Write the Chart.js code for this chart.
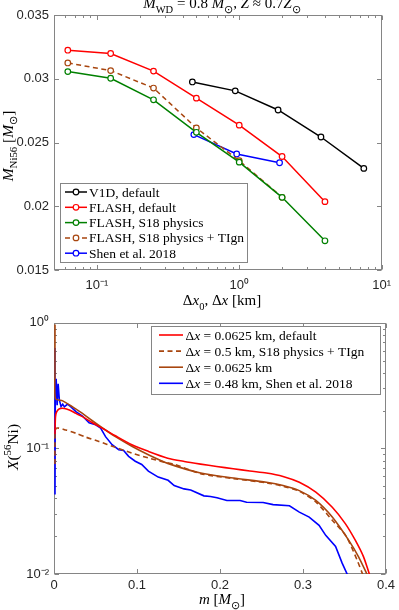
<!DOCTYPE html>
<html>
<head>
<meta charset="utf-8">
<script src="https://cdn.jsdelivr.net/npm/chart.js@4"></script>
<style>
  body { margin: 0; background: #fff; }
  #wrap { position: relative; width: 399px; height: 610px; overflow: hidden; }
  canvas { position: absolute; left: 0; display: block; }
</style>
</head>
<body>
<div id="wrap">
  <canvas id="topCanvas" width="399" height="310" style="top:0"></canvas>
  <canvas id="botCanvas" width="399" height="300" style="top:310px"></canvas>
</div>
<script>
// ---- top panel: M(Ni56) vs resolution ----
const v1dDx = [0.46875, 0.9375, 1.875, 3.75, 7.5];
const v1dNi = [0.02975, 0.02905, 0.02755, 0.02543, 0.02297];
const flashDx = [0.0625, 0.125, 0.25, 0.5, 1, 2, 4];
const flashDefaultNi = [0.03224, 0.03198, 0.0306, 0.02848, 0.02636, 0.0239, 0.02036];
const flashS18Ni = [0.03056, 0.03004, 0.02835, 0.0258, 0.02346, 0.0207, 0.01729];
const tignDx = [0.0625, 0.125, 0.25, 0.5, 1, 2];
const flashTignNi = [0.03124, 0.03064, 0.02927, 0.02614, 0.02357, 0.0207];
const shenDx = [0.48, 0.96, 1.92];
const shenNi = [0.02562, 0.0241, 0.02341];
const topLabels = ['V1D, default', 'FLASH, default', 'FLASH, S18 physics', 'FLASH, S18 physics + TIgn', 'Shen et al. 2018'];
const topXTicks = [0.05, 0.06, 0.07, 0.08, 0.09, 0.1, 0.2, 0.3, 0.4, 0.5, 0.6, 0.7, 0.8, 0.9, 1, 2, 3, 4, 5, 6, 7, 8, 9, 10];

// ---- bottom panel: X(56Ni) profiles ----
const mRed = [0.0012, 0.0018, 0.0033, 0.0065, 0.0125, 0.0185, 0.0264, 0.0343, 0.0462, 0.058, 0.074, 0.0938, 0.1137, 0.137, 0.157, 0.1766, 0.196, 0.216, 0.236, 0.256, 0.276, 0.2956, 0.3155, 0.3353, 0.351, 0.363, 0.373, 0.380, 0.384];
const xRed = [0.13, 0.179, 0.196, 0.207, 0.208, 0.202, 0.190, 0.179, 0.160, 0.145, 0.126, 0.107, 0.0947, 0.0836, 0.0787, 0.0750, 0.0718, 0.0689, 0.066, 0.0637, 0.0598, 0.0537, 0.0448, 0.034, 0.0252, 0.0186, 0.0137, 0.01, 0.0085];
const mDash = [0.0012, 0.0012, 0.0026, 0.0145, 0.0264, 0.0383, 0.0542, 0.074, 0.0938, 0.1137, 0.1336, 0.1455, 0.1766, 0.216, 0.256, 0.276, 0.2956, 0.3155, 0.3353, 0.352, 0.365, 0.375, 0.379];
const xDash = [0.075, 0.11, 0.1445, 0.140, 0.132, 0.123, 0.1135, 0.102, 0.0918, 0.0839, 0.0776, 0.0744, 0.0630, 0.0575, 0.0532, 0.0500, 0.0455, 0.0375, 0.0268, 0.0200, 0.0130, 0.0088, 0.0075];
const mBrown = [0.0012, 0.0012, 0.0018, 0.0105, 0.0224, 0.0343, 0.0462, 0.058, 0.074, 0.0938, 0.1137, 0.137, 0.1766, 0.216, 0.256, 0.276, 0.2956, 0.3155, 0.3353, 0.355, 0.367, 0.377, 0.381];
const xBrown = [0.97, 0.4, 0.249, 0.239, 0.214, 0.190, 0.166, 0.146, 0.124, 0.104, 0.089, 0.076, 0.0637, 0.0581, 0.0537, 0.0506, 0.0461, 0.0385, 0.0284, 0.0186, 0.0137, 0.01, 0.0088];
const mBlue = [0.0012, 0.0012, 0.0016, 0.0026, 0.0038, 0.005, 0.0065, 0.0085, 0.0105, 0.0125, 0.0164, 0.0204, 0.0264, 0.0343, 0.0423, 0.0502, 0.0562, 0.0621, 0.07, 0.078, 0.0839, 0.0899, 0.0979, 0.1057, 0.1137, 0.1256, 0.1375, 0.1448, 0.1567, 0.1647, 0.1806, 0.1885, 0.1964, 0.2083, 0.2242, 0.2321, 0.252, 0.264, 0.2837, 0.2956, 0.3075, 0.3194, 0.3274, 0.3393, 0.3472, 0.3532, 0.356];
const xBlue = [0.63, 0.043, 0.30, 0.358, 0.221, 0.327, 0.242, 0.215, 0.225, 0.214, 0.225, 0.214, 0.196, 0.181, 0.160, 0.154, 0.145, 0.124, 0.107, 0.0977, 0.0964, 0.0865, 0.079, 0.0744, 0.0659, 0.0591, 0.0557, 0.0506, 0.0476, 0.0467, 0.0419, 0.0414, 0.0404, 0.0385, 0.0385, 0.0373, 0.0371, 0.0357, 0.0349, 0.0311, 0.0284, 0.0244, 0.0203, 0.0166, 0.0122, 0.01, 0.0085];
const botLabels = [
  [['Δ', 'r'], ['x', 'i'], [' = 0.0625 km, default', 'r']],
  [['Δ', 'r'], ['x', 'i'], [' = 0.5 km, S18 physics + TIgn', 'r']],
  [['Δ', 'r'], ['x', 'i'], [' = 0.0625 km', 'r']],
  [['Δ', 'r'], ['x', 'i'], [' = 0.48 km, Shen et al. 2018', 'r']]
];
const botYTicks = [0.01, 0.02, 0.03, 0.04, 0.05, 0.06, 0.07, 0.08, 0.09, 0.1, 0.2, 0.3, 0.4, 0.5, 0.6, 0.7, 0.8, 0.9, 1];

const RED = '#ff0000', GREEN = '#008000', BROWN = '#a8460f', BLUE = '#0000ff';
const tickFont = { family: '"Liberation Sans", Arial, sans-serif', size: 13 };
const tickColor = '#262626';
const axisColor = '#858585';

const pts = (xs, ys) => xs.map((x, i) => ({ x: x, y: ys[i] }));

function isDecade(v) {
  const l = Math.log10(v);
  return Math.abs(l - Math.round(l)) < 1e-6;
}
function decadeLabel(v) {
  if (!isDecade(v)) return '';
  const sup = { '-': '⁻', '0': '⁰', '1': '¹', '2': '²', '3': '³' };
  return '10' + String(Math.round(Math.log10(v))).split('').map(c => sup[c]).join('');
}

// rich text: r roman, i italic, b subscript, p superscript
function drawRich(ctx, segs, x, y, size, rot, align) {
  const fontFor = k => {
    const small = k[0] === 'b' || k[0] === 'p';
    return (k.indexOf('i') >= 0 ? 'italic ' : '') + (small ? size * 0.7 : size) + 'px "Liberation Serif", serif';
  };
  const dy = k => k[0] === 'b' ? size * 0.3 : (k[0] === 'p' ? -size * 0.42 : 0);
  ctx.save();
  let w = 0;
  segs.forEach(([t, k]) => { ctx.font = fontFor(k); w += ctx.measureText(t).width; });
  ctx.translate(x, y);
  if (rot) ctx.rotate(-Math.PI / 2);
  let cx = align === 'left' ? 0 : -w / 2;
  ctx.textAlign = 'left';
  ctx.textBaseline = 'alphabetic';
  ctx.fillStyle = '#000';
  segs.forEach(([t, k]) => {
    ctx.font = fontFor(k);
    ctx.fillText(t, cx, dy(k));
    cx += ctx.measureText(t).width;
  });
  ctx.restore();
}

function makeFrame(texts, legend) {
  return {
    id: 'frame',
    beforeDatasetsDraw(chart) {
      const { ctx, chartArea: a, scales } = chart;
      ctx.save();
      ctx.strokeStyle = axisColor;
      ctx.lineWidth = 1;
      const L = Math.round(a.left) + 0.5, R = Math.round(a.right) - 0.5;
      const T = Math.round(a.top) + 0.5, B = Math.round(a.bottom) - 0.5;
      ctx.strokeRect(L, T, R - L, B - T);
      ctx.beginPath();
      [scales.x, scales.y].forEach(s => {
        s.ticks.forEach(t => {
          const p = Math.round(s.getPixelForValue(t.value)) + 0.5;
          const len = (s.type === 'logarithmic' && !isDecade(t.value)) ? 2.5 : 4.5;
          if (s.axis === 'x') {
            ctx.moveTo(p, B); ctx.lineTo(p, B - len);
            ctx.moveTo(p, T); ctx.lineTo(p, T + len);
          } else {
            ctx.moveTo(L, p); ctx.lineTo(L + len, p);
            ctx.moveTo(R, p); ctx.lineTo(R - len, p);
          }
        });
      });
      ctx.stroke();
      ctx.restore();
    },
    afterDraw(chart) {
      const ctx = chart.ctx;
      texts.forEach(t => drawRich(ctx, t.segs, t.x, t.y, t.size, t.rot));
      // legend box
      const g = legend;
      ctx.save();
      ctx.fillStyle = '#fff';
      ctx.fillRect(g.x, g.y, g.w, g.h);
      ctx.strokeStyle = axisColor;
      ctx.lineWidth = 1;
      ctx.strokeRect(g.x + 0.5, g.y + 0.5, g.w, g.h);
      g.labels.forEach((segs, i) => {
        const ds = chart.data.datasets[i];
        const y = g.y0 + i * g.dy;
        ctx.strokeStyle = ds.borderColor;
        ctx.lineWidth = ds.borderWidth;
        ctx.setLineDash(ds.borderDash || []);
        ctx.beginPath();
        ctx.moveTo(g.lx0, y); ctx.lineTo(g.lx1, y);
        ctx.stroke();
        ctx.setLineDash([]);
        if (ds.pointRadius) {
          ctx.beginPath();
          ctx.arc((g.lx0 + g.lx1) / 2, y, ds.pointRadius, 0, Math.PI * 2);
          ctx.fillStyle = '#fff';
          ctx.fill();
          ctx.lineWidth = ds.pointBorderWidth;
          ctx.stroke();
        }
        drawRich(ctx, segs, g.tx, y + 4.5, g.size, false, 'left');
      });
      ctx.restore();
    }
  };
}

function topSet(label, xs, ys, color, dash) {
  return {
    label: label, data: pts(xs, ys), borderColor: color, backgroundColor: color,
    borderWidth: 1.5, borderDash: dash, pointRadius: 2.8, pointBorderWidth: 1.2,
    pointBackgroundColor: '#fff', pointBorderColor: color, tension: 0
  };
}
function botSet(label, xs, ys, color, dash, tension) {
  return {
    label: label, data: pts(xs, ys), borderColor: color, borderWidth: 1.6,
    borderDash: dash, pointRadius: 0, tension: tension, clip: 0
  };
}

const noGrid = { display: false, drawTicks: false };
const noBorder = { display: false };

new Chart(document.getElementById('topCanvas'), {
  type: 'line',
  data: {
    datasets: [
      topSet(topLabels[0], v1dDx, v1dNi, '#000000'),
      topSet(topLabels[1], flashDx, flashDefaultNi, RED),
      topSet(topLabels[2], flashDx, flashS18Ni, GREEN),
      topSet(topLabels[3], tignDx, flashTignNi, BROWN, [5, 3.5]),
      topSet(topLabels[4], shenDx, shenNi, BLUE)
    ]
  },
  options: {
    responsive: false,
    animation: false,
    devicePixelRatio: 1,
    layout: { padding: { top: 15, right: 9, left: 0, bottom: 0 } },
    plugins: { legend: { display: false }, tooltip: { enabled: false } },
    scales: {
      x: {
        type: 'logarithmic', min: 0.05, max: 10,
        afterBuildTicks: s => { s.ticks = topXTicks.map(v => ({ value: v })); },
        afterFit: s => { s.height = 40; },
        grid: noGrid, border: noBorder,
        ticks: { autoSkip: false, maxRotation: 0, padding: 8, font: tickFont, color: tickColor, callback: v => decadeLabel(v) }
      },
      y: {
        type: 'linear', min: 0.015, max: 0.035,
        afterFit: s => { s.width = 54; },
        grid: noGrid, border: noBorder,
        ticks: { stepSize: 0.005, padding: 5, font: tickFont, color: tickColor, callback: v => String(+v.toFixed(3)) }
      }
    }
  },
  plugins: [makeFrame([
    { segs: [['M', 'i'], ['WD', 'b'], [' = 0.8 ', 'r'], ['M', 'i'], ['⊙', 'b'], [', ', 'r'], ['Z', 'i'], [' ≈ 0.7', 'r'], ['Z', 'i'], ['⊙', 'b']], x: 222, y: 8, size: 15 },
    { segs: [['M', 'i'], ['Ni56', 'b'], [' [', 'r'], ['M', 'i'], ['⊙', 'b'], [']', 'r']], x: 12.5, y: 146, size: 15.5, rot: true },
    { segs: [['Δ', 'r'], ['x', 'i'], ['0', 'b'], [', Δ', 'r'], ['x', 'i'], [' [km]', 'r']], x: 222, y: 305, size: 15 }
  ], { labels: topLabels.map(s => [[s, 'r']]), x: 60, y: 183, w: 187, h: 79, y0: 192, dy: 15.3, lx0: 65, lx1: 87, tx: 89, size: 13.5 })]
});

new Chart(document.getElementById('botCanvas'), {
  type: 'line',
  data: {
    datasets: [
      botSet('dx = 0.0625 km, default', mRed, xRed, RED, undefined, 0.25),
      botSet('dx = 0.5 km, S18 physics + TIgn', mDash, xDash, BROWN, [5, 3.5], 0.25),
      botSet('dx = 0.0625 km', mBrown, xBrown, BROWN, undefined, 0.25),
      botSet('dx = 0.48 km, Shen et al. 2018', mBlue, xBlue, BLUE, undefined, 0)
    ]
  },
  options: {
    responsive: false,
    animation: false,
    devicePixelRatio: 1,
    layout: { padding: { top: 10, right: 9, left: 0, bottom: 0 } },
    plugins: { legend: { display: false }, tooltip: { enabled: false } },
    scales: {
      x: {
        type: 'linear', min: 0, max: 0.4,
        afterFit: s => { s.height = 36; },
        grid: noGrid, border: noBorder,
        ticks: { stepSize: 0.1, autoSkip: false, maxRotation: 0, padding: 4, font: tickFont, color: tickColor, callback: v => String(+v.toFixed(1)) }
      },
      y: {
        type: 'logarithmic', min: 0.01, max: 1,
        afterBuildTicks: s => { s.ticks = botYTicks.map(v => ({ value: v })); },
        afterFit: s => { s.width = 54; },
        grid: noGrid, border: noBorder,
        ticks: { autoSkip: false, padding: 5, font: tickFont, color: tickColor, callback: v => decadeLabel(v) }
      }
    }
  },
  plugins: [makeFrame([
    { segs: [['X', 'i'], ['(', 'r'], ['56', 'p'], ['Ni)', 'r']], x: 17.5, y: 137, size: 15.5, rot: true },
    { segs: [['m', 'i'], [' [', 'r'], ['M', 'i'], ['⊙', 'b'], [']', 'r']], x: 222, y: 294, size: 15 }
  ], { labels: botLabels, x: 151, y: 16, w: 229, h: 68, y0: 25, dy: 16.1, lx0: 159, lx1: 183, tx: 185.5, size: 13.5 })]
});
</script>
</body>
</html>
